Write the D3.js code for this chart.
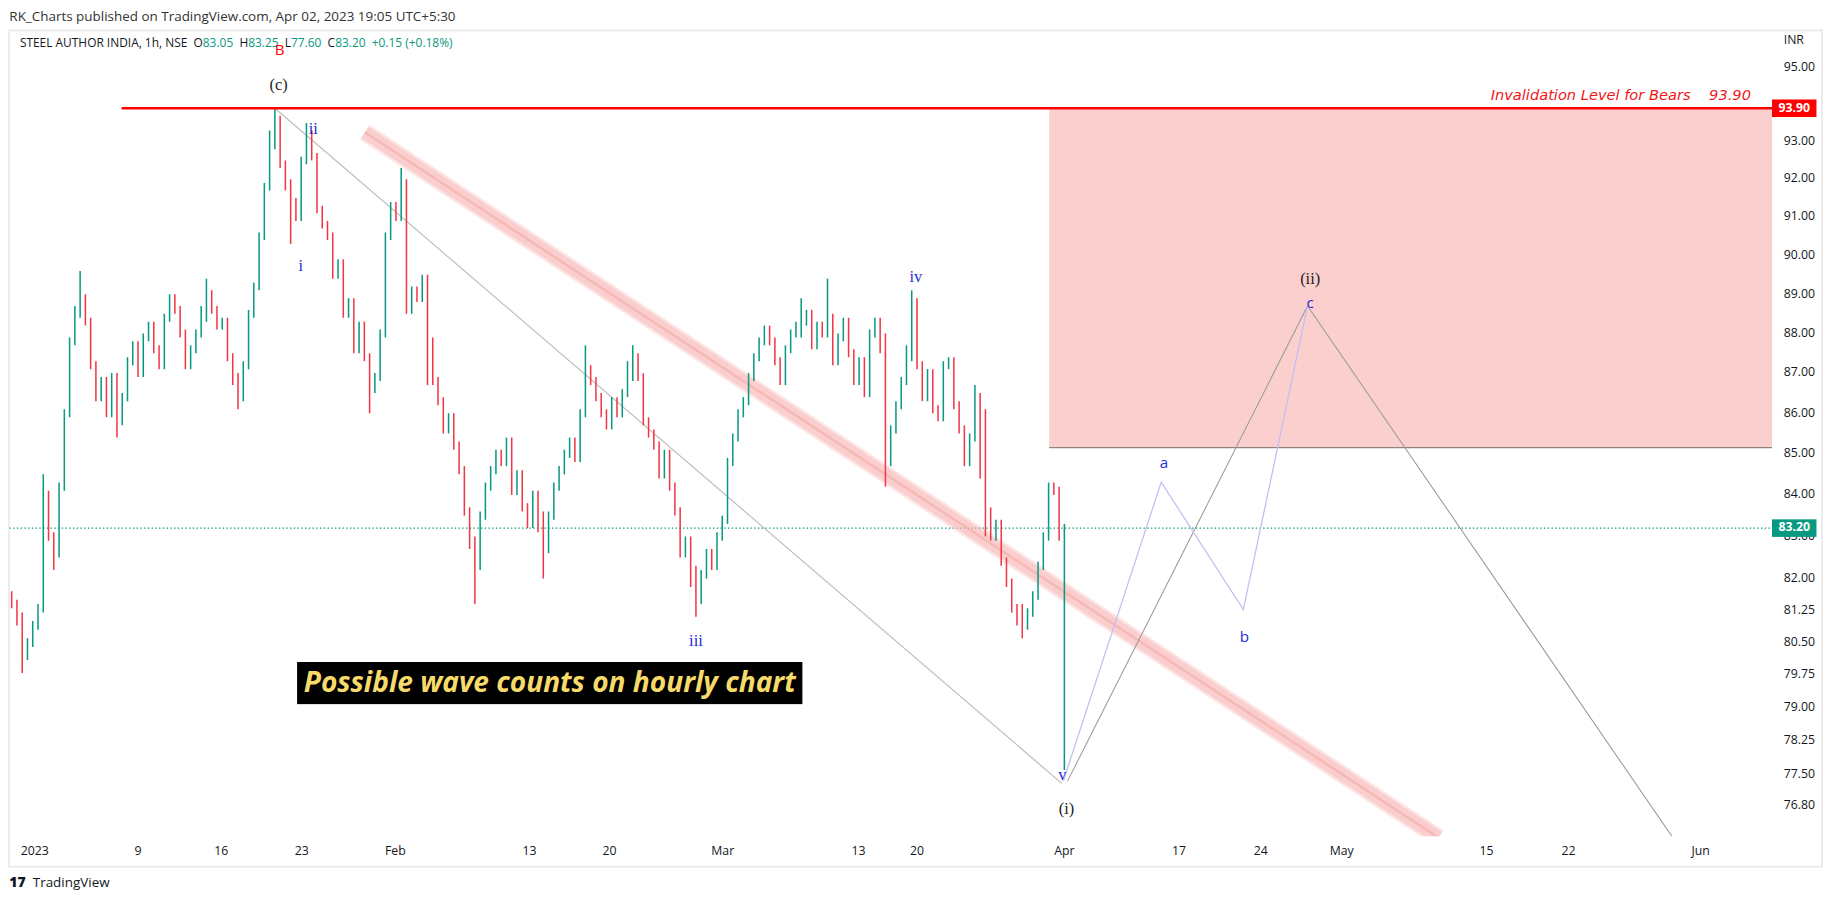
<!DOCTYPE html>
<html><head><meta charset="utf-8">
<script src="https://cdn.jsdelivr.net/npm/d3@7"></script>
<style>body{margin:0;background:#fff}svg{display:block}</style>
</head><body><svg id="c" width="1834" height="899"></svg>
<script>
// ---- data ----
const closes = [
81.4,81.0,80.2,80.5,80.9,81.3,84.0,83.0,82.6,84.2,
86.0,87.8,88.6,88.9,88.3,87.2,86.4,86.8,86.0,86.9,
85.8,86.4,87.3,87.7,87.0,87.9,88.2,87.6,87.2,88.4,
88.9,88.6,88.0,87.2,87.6,88.0,88.6,89.0,88.6,88.2,
88.3,87.4,86.8,86.4,87.2,88.5,89.2,90.5,91.8,93.2,
93.6,92.4,91.8,91.4,91.0,92.5,93.2,92.6,91.2,90.8,
90.5,89.5,89.8,88.5,88.8,87.6,88.2,87.4,86.6,86.9,
88.0,90.5,91.3,91.0,91.9,88.6,89.1,88.9,89.4,87.8,
86.8,86.3,85.6,85.9,85.2,84.6,83.6,82.8,82.3,83.5,
84.2,84.6,85.0,84.8,85.3,84.1,84.5,83.7,83.3,84.0,
83.2,82.7,83.5,84.2,84.6,85.0,85.3,84.9,86.0,87.1,
86.8,86.4,86.0,85.7,86.3,86.0,86.5,87.2,87.4,86.9,
85.8,85.5,85.2,84.5,85.0,84.2,83.6,82.6,82.9,81.9,
81.5,82.1,82.6,82.3,83.0,83.4,84.8,85.4,86.0,86.3,
86.9,87.4,87.8,88.1,87.8,87.3,86.8,87.6,88.0,88.2,
88.3,88.5,87.7,88.2,88.0,88.4,87.3,87.9,88.3,87.5,
86.8,87.3,86.5,88.0,88.3,87.6,84.8,85.6,86.2,86.8,
87.6,88.8,87.2,86.4,87.0,86.1,85.9,87.2,87.3,86.2,
85.6,84.8,85.4,86.4,86.0,83.6,83.0,83.3,82.4,81.9,
81.3,81.0,80.9,81.2,81.6,82.3,83.0,84.2,84.1,83.05,83.2];
const firstOpen = 81.6;
// [bar index, high, low] for visible spikes
const extremes = [[2,81.2,79.8],[6,84.5,81.4],[8,83.0,82.2],[13,89.6,88.4],[20,86.5,85.4],
 [37,89.4,88.3],[43,87.0,86.1],[50,93.9,92.8],[53,92.0,90.3],[56,93.5,92.4],[68,87.0,86.0],
 [74,92.3,91.0],[79,89.4,86.7],[88,83.0,81.4],[101,83.6,82.0],[109,87.7,86.0],[118,87.7,86.8],
 [130,82.3,81.1],[150,88.9,87.9],[155,89.4,88.0],[166,88.0,84.2],[171,89.1,87.3],[183,86.7,85.8],
 [184,86.4,84.4],[185,84.8,83.0],[192,81.4,80.6],[197,84.3,83.4],[199,84.2,82.9],[200,83.25,77.6]];
const yTicks = [95,93,92,91,90,89,88,87,86,85,84,83,82,81.25,80.5,79.75,79,78.25,77.5,76.8];
const xTickIdx = [4.4,24,39.8,55.1,72.9,98.4,113.6,135.1,160.9,172,200,221.8,237.3,252.7,280.2,295.8,320.9];
const xTickLbl = ["2023","9","16","23","Feb","13","20","Mar","13","20","Apr","17","24","May","15","22","Jun"];
const invalidation = 93.90, lastPrice = 83.20, zoneBottom = 85.15;
const grayLine = [[50,93.9],[199.5,77.3]];
const channel = [[67.1,93.25],[271.1,76.1]];
const projAbc = [[199.8,77.35],[218.4,84.31],[234,81.27],[246.2,88.7]];
const projMain = [[200.6,77.35],[246.2,88.7],[315.6,76.1]];
const waveLabels = [
 {t:"(c)",i:50.7,p:94.5,c:"#222",f:"serif",s:14},
 {t:"ii",i:57.3,p:93.3,c:"#2a2ad8",f:"serif",s:14},
 {t:"i",i:54.9,p:89.7,c:"#2a2ad8",f:"serif",s:14},
 {t:"iii",i:130,p:80.5,c:"#2a2ad8",f:"serif",s:14},
 {t:"iv",i:171.8,p:89.4,c:"#2a2ad8",f:"serif",s:14},
 {t:"v",i:199.6,p:77.45,c:"#2a2ad8",f:"serif",s:14},
 {t:"(i)",i:200.4,p:76.7,c:"#222",f:"serif",s:14},
 {t:"a",i:218.9,p:84.75,c:"#2a2ad8",f:"sans-serif",s:13},
 {t:"b",i:234.2,p:80.6,c:"#2a2ad8",f:"sans-serif",s:13},
 {t:"(ii)",i:246.7,p:89.35,c:"#222",f:"serif",s:14},
 {t:"c",i:246.7,p:88.75,c:"#2a2ad8",f:"sans-serif",s:13}];

// ---- layout (design space 1568x768, scaled to 1834x899) ----
const K = 1834/1568;
const svg = d3.select("#c");
const g = svg.append("g").attr("transform",`scale(${K})`);
const L=8, R=1515, T=26, B=715;
const x = d3.scaleLinear().domain([0,200]).range([10,910]);
const y = d3.scaleLog().domain([76.8,95]).range([689,58]);
const green="#089981", red="#f23645";

svg.append("defs").append("clipPath").attr("id","clip").append("rect")
  .attr("x",L).attr("y",T).attr("width",R-L).attr("height",B-T);

g.append("text").attr("x",8).attr("y",18).attr("font-family","Open Sans, sans-serif").attr("font-size",11.5).attr("fill","#333")
 .text("RK_Charts published on TradingView.com, Apr 02, 2023 19:05 UTC+5:30");
g.append("rect").attr("x",7.7).attr("y",26).attr("width",1550).attr("height",715).attr("fill","none").attr("stroke","#e9eaef").attr("stroke-width",1.5);
const hdr = g.append("text").attr("x",17).attr("y",40).attr("font-family","Open Sans, sans-serif").attr("font-size",10.2).attr("fill","#131722").attr("xml:space","preserve");
hdr.append("tspan").text("STEEL AUTHOR INDIA, 1h, NSE  O");
hdr.append("tspan").attr("fill",green).text("83.05");
hdr.append("tspan").text("  H");
hdr.append("tspan").attr("fill",green).text("83.25");
hdr.append("tspan").text("  L");
hdr.append("tspan").attr("fill",green).text("77.60");
hdr.append("tspan").text("  C");
hdr.append("tspan").attr("fill",green).text("83.20  +0.15 (+0.18%)");

const plot = g.append("g").attr("clip-path","url(#clip)");
plot.append("rect").attr("x",897).attr("y",y(invalidation)).attr("width",R-897).attr("height",y(zoneBottom)-y(invalidation)).attr("fill","#fccfcf");
plot.append("line").attr("x1",897).attr("x2",R).attr("y1",y(zoneBottom)).attr("y2",y(zoneBottom)).attr("stroke","#555").attr("stroke-width",0.7);
plot.append("line").attr("x1",L).attr("x2",R).attr("y1",y(lastPrice)).attr("y2",y(lastPrice)).attr("stroke",green).attr("stroke-dasharray","1.2,2").attr("stroke-width",1);
const ln = d3.line().x(d=>x(d[0])).y(d=>y(d[1]));
plot.append("path").attr("d",ln(channel)).attr("stroke","#f9b3b3").attr("stroke-opacity",0.35).attr("stroke-width",15).attr("fill","none");
plot.append("path").attr("d",ln(channel)).attr("stroke","#f9b3b3").attr("stroke-opacity",0.45).attr("stroke-width",11).attr("fill","none");
plot.append("path").attr("d",ln(channel)).attr("stroke","#f4a0a0").attr("stroke-opacity",0.5).attr("stroke-width",2).attr("fill","none");
plot.append("path").attr("d",ln(grayLine)).attr("stroke","#bdbdbd").attr("stroke-width",1).attr("fill","none");
plot.append("path").attr("d",ln(projMain)).attr("stroke","#9a9a9a").attr("stroke-width",0.9).attr("fill","none");
plot.append("path").attr("d",ln(projAbc)).attr("stroke","#c3bff5").attr("stroke-width",1.1).attr("fill","none");

const ex = new Map(extremes.map(e=>[e[0],e]));
const bars = closes.map((c,i)=>{
  const o = i===0?firstOpen:closes[i-1];
  let h=Math.max(o,c)+0.1, l=Math.min(o,c)-0.1;
  if(ex.has(i)){h=Math.max(h,ex.get(i)[1]); l=Math.min(l,ex.get(i)[2]);}
  return {i,o,c,h,l};
});
plot.append("g").selectAll("line").data(bars).join("line").attr("x1",d=>x(d.i)).attr("x2",d=>x(d.i))
  .attr("y1",d=>y(d.h)).attr("y2",d=>y(d.l)).attr("stroke",d=>d.c>=d.o?green:red).attr("stroke-width",1.3);

plot.append("line").attr("x1",104).attr("x2",R).attr("y1",y(invalidation)).attr("y2",y(invalidation)).attr("stroke","#f00").attr("stroke-width",2);
g.append("text").attr("x",1497).attr("y",y(invalidation)-7).attr("text-anchor","end").attr("font-family","DejaVu Sans, sans-serif").attr("font-style","italic").attr("font-size",12.5).attr("fill","#f01818")
 .attr("xml:space","preserve").text("Invalidation Level for Bears    93.90");

g.append("text").attr("x",239).attr("y",47).attr("text-anchor","middle").attr("font-family","Open Sans, sans-serif").attr("font-size",13).attr("fill","#f00").text("B");
g.selectAll(".wl").data(waveLabels).join("text").attr("x",d=>x(d.i)).attr("y",d=>y(d.p))
 .attr("text-anchor","middle").attr("dominant-baseline","middle")
 .attr("font-family",d=>d.f==="serif"?"Liberation Serif, serif":"Open Sans, sans-serif").attr("font-size",d=>d.s).attr("fill",d=>d.c).text(d=>d.t);

g.append("rect").attr("x",254).attr("y",566).attr("width",432).attr("height",36).attr("fill","#000");
g.append("text").attr("x",470).attr("y",592).attr("text-anchor","middle").attr("font-family","Open Sans, sans-serif").attr("font-style","italic").attr("font-weight","bold").attr("font-size",24).attr("fill","#f7db6a").text("Possible wave counts on hourly chart");

g.append("text").attr("x",1525).attr("y",38).attr("font-family","Open Sans, sans-serif").attr("font-size",10.5).attr("fill","#131722").text("INR");
g.selectAll(".yt").data(yTicks).join("text").attr("x",1525).attr("y",d=>y(d)).attr("dominant-baseline","middle")
 .attr("font-family","Open Sans, sans-serif").attr("font-size",10.5).attr("fill","#131722").text(d=>d.toFixed(2));
function tag(v,col){
  g.append("rect").attr("x",1515).attr("y",y(v)-7.5).attr("width",38).attr("height",15).attr("fill",col);
  g.append("text").attr("x",1534).attr("y",y(v)).attr("text-anchor","middle").attr("dominant-baseline","middle")
   .attr("font-family","Open Sans, sans-serif").attr("font-weight","bold").attr("font-size",10.5).attr("fill","#fff").text(v.toFixed(2));
}
tag(invalidation,"#f00"); tag(lastPrice,green);

g.selectAll(".xt").data(xTickIdx).join("text").attr("x",d=>x(d)).attr("y",731).attr("text-anchor","middle")
 .attr("font-family","Open Sans, sans-serif").attr("font-size",10.5).attr("fill","#131722").text((d,i)=>xTickLbl[i]);

g.append("text").attr("x",8).attr("y",758).attr("font-family","Open Sans, sans-serif").attr("font-weight","900").attr("font-size",12).attr("fill","#131722").text("17");
g.append("text").attr("x",28).attr("y",758).attr("font-family","Open Sans, sans-serif").attr("font-size",11.5).attr("fill","#131722").text("TradingView");
</script></body></html>
